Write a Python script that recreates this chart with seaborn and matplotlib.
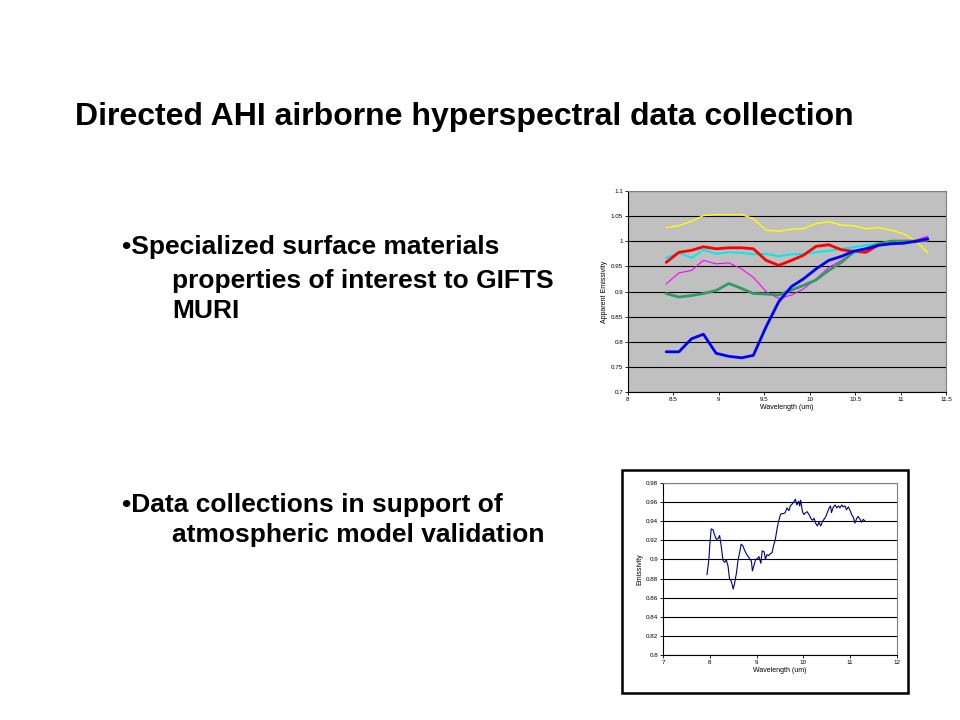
import numpy as np
import pandas as pd
import seaborn as sns
import matplotlib
matplotlib.use("Agg")
import matplotlib.pyplot as plt
from matplotlib.patches import Rectangle

sns.set_style("white")
plt.rcParams['font.family'] = ['Liberation Sans', 'DejaVu Sans']
plt.rcParams['text.color'] = 'black'
plt.rcParams['axes.labelcolor'] = 'black'
plt.rcParams['xtick.color'] = 'black'
plt.rcParams['ytick.color'] = 'black'

# ---- top chart data (apparent emissivity, six materials) ----
wl_top = [8.42, 8.56, 8.70, 8.83, 8.97, 9.11, 9.25, 9.38, 9.52, 9.66, 9.80,
          9.93, 10.07, 10.21, 10.35, 10.48, 10.62, 10.76, 10.90, 11.03, 11.17, 11.30]
yellow = [1.027, 1.031, 1.040, 1.051, 1.053, 1.053, 1.053, 1.045, 1.022, 1.020, 1.024,
          1.025, 1.035, 1.039, 1.032, 1.031, 1.025, 1.027, 1.022, 1.015, 1.000, 0.977]
red = [0.958, 0.978, 0.982, 0.989, 0.985, 0.987, 0.987, 0.985, 0.962, 0.952, 0.962,
       0.972, 0.990, 0.993, 0.983, 0.980, 0.978, 0.993, 1.000, 1.000, 1.000, 1.002]
cyan = [0.967, 0.977, 0.967, 0.983, 0.975, 0.978, 0.977, 0.974, 0.975, 0.970, 0.974,
        0.975, 0.978, 0.981, 0.985, 0.988, 0.992, 0.995, 0.998, 1.000, 1.000, 1.006]
magenta = [0.915, 0.937, 0.942, 0.962, 0.955, 0.957, 0.945, 0.928, 0.900, 0.886, 0.893,
           0.905, 0.925, 0.948, 0.962, 0.978, 0.985, 0.993, 0.998, 1.000, 1.002, 1.010]
green = [0.896, 0.889, 0.892, 0.896, 0.902, 0.916, 0.906, 0.896, 0.895, 0.893, 0.903,
         0.912, 0.923, 0.942, 0.958, 0.978, 0.985, 0.995, 1.000, 1.000, 1.000, 1.003]
blue = [0.780, 0.780, 0.806, 0.815, 0.777, 0.771, 0.768, 0.773, 0.830, 0.880, 0.910,
        0.925, 0.945, 0.962, 0.970, 0.980, 0.985, 0.992, 0.995, 0.996, 1.000, 1.005]

top_series = [
    (yellow, "#ffff00", 1.0),
    (cyan, "#00e8f0", 1.4),
    (red, "#ff0000", 2.0),
    (magenta, "#ff00ff", 0.8),
    (green, "#339966", 2.0),
    (blue, "#0000ff", 2.0),
]

# ---- bottom chart data (emissivity) ----
wl_bot = [7.94, 7.98, 8.00, 8.03, 8.07, 8.10, 8.14, 8.18, 8.21, 8.25, 8.28, 8.32, 8.35,
          8.39, 8.42, 8.46, 8.50, 8.53, 8.57, 8.60, 8.64, 8.67, 8.71, 8.74, 8.78, 8.82,
          8.85, 8.89, 8.91, 8.94, 8.98, 9.02, 9.05, 9.09, 9.12, 9.16, 9.19, 9.22, 9.26,
          9.29, 9.33, 9.36, 9.40, 9.44, 9.47, 9.51, 9.54, 9.58, 9.61, 9.65, 9.69, 9.72,
          9.76, 9.79, 9.83, 9.86, 9.90, 9.92, 9.94, 9.98, 10.01, 10.05, 10.08, 10.12,
          10.16, 10.19, 10.23, 10.26, 10.30, 10.33, 10.37, 10.40, 10.44, 10.48, 10.51,
          10.55, 10.58, 10.60, 10.64, 10.68, 10.71, 10.75, 10.78, 10.82, 10.85, 10.89,
          10.92, 10.96, 11.00, 11.03, 11.07, 11.10, 11.14, 11.17, 11.21, 11.24, 11.28, 11.32]
emis = [0.884, 0.900, 0.915, 0.932, 0.931, 0.926, 0.921, 0.922, 0.925, 0.912, 0.899, 0.897,
        0.900, 0.893, 0.880, 0.877, 0.869, 0.875, 0.886, 0.898, 0.908, 0.916, 0.914, 0.910,
        0.906, 0.903, 0.901, 0.898, 0.888, 0.893, 0.900, 0.901, 0.903, 0.896, 0.909, 0.908,
        0.900, 0.905, 0.904, 0.906, 0.907, 0.914, 0.921, 0.933, 0.940, 0.947, 0.948, 0.948,
        0.949, 0.954, 0.951, 0.956, 0.958, 0.960, 0.963, 0.957, 0.961, 0.956, 0.962, 0.950,
        0.947, 0.949, 0.950, 0.947, 0.943, 0.941, 0.943, 0.938, 0.935, 0.939, 0.935, 0.939,
        0.942, 0.945, 0.949, 0.954, 0.956, 0.949, 0.955, 0.957, 0.954, 0.956, 0.954, 0.957,
        0.955, 0.956, 0.952, 0.955, 0.951, 0.947, 0.944, 0.938, 0.943, 0.945, 0.942, 0.939,
        0.942, 0.940]

fig = plt.figure(figsize=(9.6, 7.2), dpi=100)

# slide text
fig.text(75 / 960, 1 - 117 / 720, "Directed AHI airborne hyperspectral data collection",
         fontsize=23, fontweight="bold", va="center", ha="left")
txt = dict(fontsize=19, fontweight="bold", va="center", ha="left")
fig.text(122 / 960, 1 - 247 / 720, "\u2022Specialized surface materials", **txt)
fig.text(172 / 960, 1 - 281 / 720, "properties of interest to GIFTS", **txt)
fig.text(172 / 960, 1 - 311 / 720, "MURI", **txt)
fig.text(122 / 960, 1 - 505 / 720, "\u2022Data collections in support of", **txt)
fig.text(172 / 960, 1 - 535 / 720, "atmospheric model validation", **txt)


def excel_axes(ax, face):
    ax.set_facecolor(face)
    for s in ax.spines.values():
        s.set_color("#808080")
        s.set_linewidth(0.8)
    ax.spines["left"].set_color("black")
    ax.spines["bottom"].set_color("black")
    ax.tick_params(axis="both", labelsize=4.5, length=2, width=0.6, pad=1.5,
                   direction="out", left=True, bottom=True)
    ax.grid(axis="y", color="black", linewidth=0.8)
    ax.set_axisbelow(True)


# top chart
ax1 = fig.add_axes([628 / 960, 1 - 392 / 720, 318 / 960, 201 / 720])
excel_axes(ax1, "#c0c0c0")
for vals, col, lw in top_series:
    sns.lineplot(x=wl_top, y=vals, color=col, linewidth=lw, ax=ax1)
ax1.set_xlim(8, 11.5)
ax1.set_ylim(0.7, 1.1)
ax1.set_xticks(np.arange(8, 11.51, 0.5))
ax1.set_xticklabels(["8", "8.5", "9", "9.5", "10", "10.5", "11", "11.5"])
ax1.set_yticks(np.arange(0.7, 1.101, 0.05))
ax1.set_yticklabels(["0.7", "0.75", "0.8", "0.85", "0.9", "0.95", "1", "1.05", "1.1"])
ax1.set_xlabel("Wavelength (um)", fontsize=5, labelpad=1.5)
ax1.set_ylabel("Apparent Emissivity", fontsize=5, labelpad=2)

# bottom chart frame
fig.patches.append(Rectangle((622 / 960, 1 - 693 / 720), 286 / 960, 223 / 720,
                             transform=fig.transFigure, fill=False,
                             edgecolor="black", linewidth=1.8))

ax2 = fig.add_axes([663 / 960, 1 - 655 / 720, 234 / 960, 172 / 720])
excel_axes(ax2, "white")
sns.lineplot(x=wl_bot, y=emis, color="#000080", linewidth=0.8, ax=ax2)
ax2.set_xlim(7, 12)
ax2.set_ylim(0.8, 0.98)
ax2.set_xticks(np.arange(7, 12.01, 1))
ax2.set_xticklabels(["7", "8", "9", "10", "11", "12"])
ax2.set_yticks(np.arange(0.8, 0.981, 0.02))
ax2.set_yticklabels(["0.8", "0.82", "0.84", "0.86", "0.88", "0.9", "0.92", "0.94", "0.96", "0.98"])
ax2.set_xlabel("Wavelength (um)", fontsize=5, labelpad=1.5)
ax2.set_ylabel("Emissivity", fontsize=5, labelpad=2)

fig.savefig("out.png", dpi=100)
